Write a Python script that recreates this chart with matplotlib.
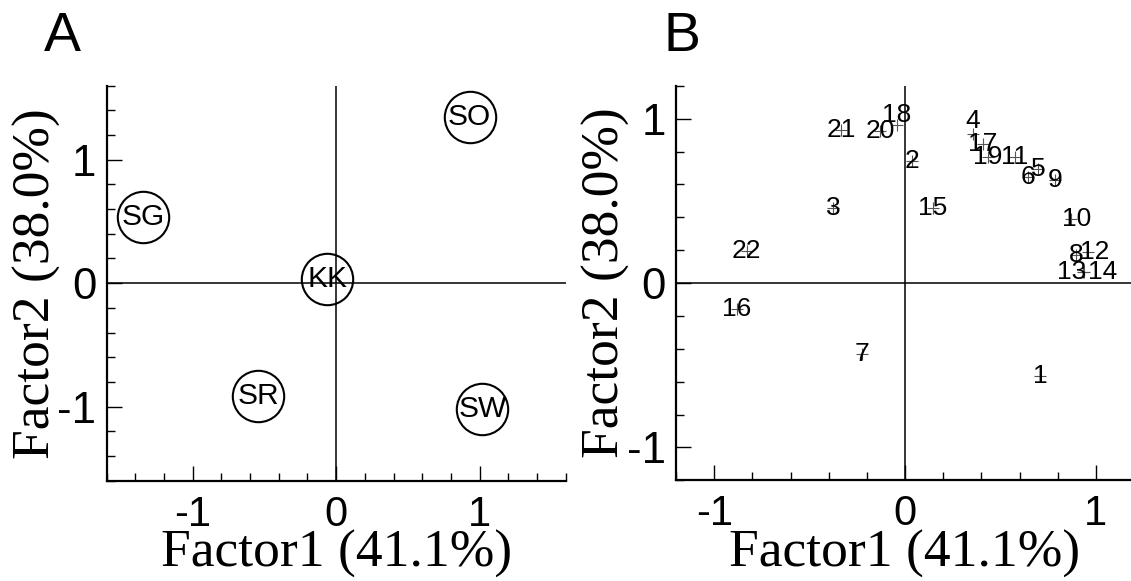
import numpy as np
import matplotlib
matplotlib.use('Agg')
import matplotlib.pyplot as plt
from matplotlib.ticker import MultipleLocator

# panel A: sites
site_names = ['SO', 'SG', 'KK', 'SR', 'SW']
site_f1 = [0.93, -1.345, -0.061, -0.543, 1.019]
site_f2 = [1.35, 0.534, 0.036, -0.917, -1.017]

# panel B: numbered samples 1..22
samp_ids = [str(i) for i in range(1, 23)]
samp_f1 = [0.708, 0.037, -0.375, 0.354, 0.697, 0.645, -0.223, 0.898, 0.788, 0.872, 0.575,
           0.959, 0.933, 0.940, 0.146, -0.882, 0.409, -0.043, 0.435, -0.131, -0.335, -0.830]
samp_f2 = [-0.566, 0.745, 0.459, 0.907, 0.695, 0.644, -0.434, 0.170, 0.624, 0.392, 0.765,
           0.190, 0.065, 0.065, 0.459, -0.158, 0.847, 0.962, 0.765, 0.923, 0.931, 0.196]

xlabel = 'Factor1 (41.1%)'
ylabel = 'Factor2 (38.0%)'

# label nudges (points) so overlapping numbers stay readable
nudge = {'4': (0, 9), '18': (0, 7), '13': (-8, 0), '14': (13, 0), '10': (4, 0), '12': (5, 0)}

sans = 'Liberation Sans'
serif = 'Liberation Serif'

fig = plt.figure(figsize=(11.31, 5.81), dpi=100)
axA = fig.add_axes([0.0943, 0.1726, 0.4058, 0.680])
axB = fig.add_axes([0.5977, 0.1733, 0.405, 0.679])


def style_axes(ax, lim):
    ax.set_xlim(-lim, lim)
    ax.set_ylim(-lim, lim)
    for s in ['top', 'right']:
        ax.spines[s].set_visible(False)
    for s in ['left', 'bottom']:
        ax.spines[s].set_linewidth(1.6)
    ax.axhline(0, color='black', lw=1.1, zorder=1)
    ax.axvline(0, color='black', lw=1.1, zorder=1)
    ax.xaxis.set_minor_locator(MultipleLocator(0.2))
    ax.yaxis.set_minor_locator(MultipleLocator(0.2))
    ax.tick_params(which='both', direction='in', width=1.0, top=False, right=False)
    ax.tick_params(which='major', length=10.8)
    ax.tick_params(which='minor', length=5.5)
    ax.tick_params(axis='x', which='major', pad=10, labelsize=30)
    ax.tick_params(axis='y', which='major', pad=7.5, labelsize=31.5)
    ax.set_xticks([-1, 0, 1])
    ax.set_xticklabels(['-1', '0', '1'], fontfamily=sans)
    ax.set_yticks([-1, 0, 1])
    ax.set_yticklabels(['-1', '0', '1'], fontfamily=sans)
    ax.set_xlabel(xlabel, fontfamily=serif, fontsize=38.5, va='baseline')
    ax.xaxis.set_label_coords(0.5, -0.2185)
    ax.set_ylabel(ylabel, fontfamily=serif, fontsize=38.5)
    ax.yaxis.set_label_coords(-0.10, 0.5)


style_axes(axA, 1.6)
axA.plot(site_f1, site_f2, 'o', ms=37, mfc='none', mec='black', mew=1.5, zorder=3)
for name, x, y in zip(site_names, site_f1, site_f2):
    axA.text(x, y, name, ha='center', va='center', fontsize=21.5, fontfamily=sans, zorder=4)

style_axes(axB, 1.2)
axB.plot(samp_f1, samp_f2, '+', ms=8, color='#555555', mew=0.8, zorder=3)
for sid, x, y in zip(samp_ids, samp_f1, samp_f2):
    dx, dy = nudge.get(sid, (0, 0))
    axB.annotate(sid, (x, y), xytext=(dx, dy), textcoords='offset points',
                 ha='center', va='center', fontsize=19, fontfamily=sans, zorder=4)

fig.text(0.0386, 0.912, 'A', fontsize=40, fontfamily=sans, va='baseline')
fig.text(0.587, 0.912, 'B', fontsize=40, fontfamily=sans, va='baseline')

fig.savefig('out.png', dpi=100)
